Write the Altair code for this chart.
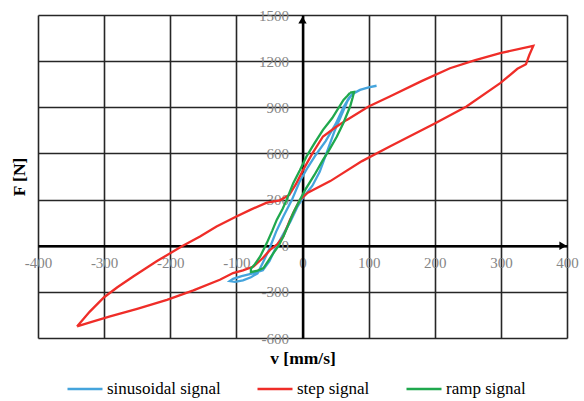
import altair as alt
import pandas as pd

# ---- axis ticks / legend ----
x_ticks = [-400, -300, -200, -100, 0, 100, 200, 300, 400]
y_ticks = [-600, -300, 0, 300, 600, 900, 1200, 1500]
series_names = ["sinusoidal signal", "step signal", "ramp signal"]
series_colors = ["#45a4dc", "#ef2d28", "#1fa84d"]

# ---- step signal (red loop) ----
step_v = [-341, -322, -300, -280, -256, -220, -183, -155, -130, -100, -79, -54, -34, -20, -10, 1, 15, 31, 50, 67,
          100, 132, 180, 223, 260, 299, 349,
          343, 338, 325, 299, 248, 200, 132, 90, 42, 8, -4, -12, -19, -29, -38, -49, -60, -74, -90, -105, -125,
          -165, -205, -250, -291, -320, -341]
step_f = [-525, -430, -335, -270, -200, -100, -5, 60, 125, 190, 233, 280, 295, 330, 400, 493, 600, 710, 770, 818,
          905, 970, 1070, 1154, 1205, 1252, 1299,
          1240, 1180, 1150, 1057, 905, 795, 645, 550, 420, 345, 298, 230, 168, 60, 10, -27, -80, -135, -160, -178, -221,
          -290, -352, -410, -460, -497, -525]

# ---- sinusoidal signal (blue loop) ----
sin_v = [112, 100, 87, 75, 68, 58, 48, 37, 26, 15, 2, -8, -18, -29, -40, -50, -60, -75, -92, -105, -110, -102,
         -90, -78, -68, -60, -50, -40, -29, -16, -4, 8, 20, 35, 50, 62, 70, 75]
sin_f = [1040, 1030, 1013, 985, 940, 840, 740, 610, 480, 390, 320, 250, 160, 75, -10, -100, -160, -180, -198, -215,
         -230, -235, -225, -205, -180, -110, -20, 90, 190, 298, 420, 510, 590, 680, 790, 900, 960, 985]

# ---- ramp signal (green loop) ----
ramp_v = [72, 78, 76, 72, 62, 52, 40, 31, 18, 4, -6, -14, -22, -29, -36, -44, -52, -59, -68, -78, -78, -72, -64,
          -54, -46, -39, -30, -24, -14, -4, 6, 18, 31, 45, 62, 68, 72]
ramp_f = [995, 1000, 965, 905, 800, 710, 620, 558, 460, 363, 280, 212, 130, 60, 0, -48, -100, -146, -162, -172,
          -150, -120, -70, 17, 95, 168, 240, 298, 407, 490, 580, 665, 753, 830, 948, 975, 995]

rows = []
for name, xs, ys in [("sinusoidal signal", sin_v, sin_f),
                     ("step signal", step_v, step_f),
                     ("ramp signal", ramp_v, ramp_f)]:
    for i, (a, b) in enumerate(zip(xs, ys)):
        rows.append({"series": name, "idx": i, "v": a, "F": b})
df = pd.DataFrame(rows)

FONT = "Liberation Serif"
W, H = 529, 323
xscale = alt.Scale(domain=[-400, 400], nice=False, zero=False)
yscale = alt.Scale(domain=[-600, 1500], nice=False, zero=False)
x_off = -H * (0 - (-600)) / 2100.0          # move x axis up to F = 0
y_off = -W * (0 - (-400)) / 800.0           # move y axis right to v = 0

grid_common = dict(grid=True, labels=False, ticks=False, domain=False, gridColor="#262626",
                   gridWidth=1.6, gridOpacity=1, zindex=0, titleFont=FONT, titleFontSize=17.5,
                   titleFontWeight="bold", titleColor="black")

lines = alt.Chart(df).mark_line(strokeWidth=2.3).encode(
    x=alt.X("v:Q", scale=xscale,
            axis=alt.Axis(values=x_ticks, orient="bottom", title="v [mm/s]", titlePadding=11, **grid_common)),
    y=alt.Y("F:Q", scale=yscale,
            axis=alt.Axis(values=y_ticks, orient="left", title="F [N]", titlePadding=10, **grid_common)),
    color=alt.Color("series:N", scale=alt.Scale(domain=series_names, range=series_colors),
                    legend=alt.Legend(orient="none", legendX=28, legendY=355, direction="horizontal",
                                      title=None, symbolType="stroke", symbolSize=1225,
                                      symbolStrokeWidth=2.5, labelFont=FONT, labelFontSize=17,
                                      labelColor="black", labelOffset=3, columnPadding=31, padding=0)),
    detail="series:N",
    order="idx:Q",
)

lab_common = dict(grid=False, ticks=False, domain=True, domainColor="black", domainWidth=2.4,
                  labelFont=FONT, labelFontSize=15, labelColor="#858585", labelFlush=False,
                  labelOverlap=False, title=None, zindex=0, labelExpr="'' + datum.value")

arrow_x = alt.Chart(pd.DataFrame({"v": [400], "F": [0]})).mark_point(
    shape="triangle-right", filled=True, size=70, color="black", opacity=1, xOffset=-4
).encode(
    x=alt.X("v:Q", scale=xscale,
            axis=alt.Axis(values=x_ticks, orient="bottom", offset=x_off, labelPadding=10, **lab_common)),
    y=alt.Y("F:Q", scale=yscale,
            axis=alt.Axis(values=y_ticks, orient="left", offset=y_off, labelPadding=14, **lab_common)),
)

arrow_y = alt.Chart(pd.DataFrame({"v": [0], "F": [1500]})).mark_point(
    shape="triangle-up", filled=True, size=70, color="black", opacity=1, yOffset=5
).encode(
    x=alt.X("v:Q", scale=xscale, axis=None),
    y=alt.Y("F:Q", scale=yscale, axis=None),
)

chart = alt.layer(lines, arrow_x, arrow_y).resolve_axis(
    x="independent", y="independent"
).properties(
    width=W, height=H,
    autosize=alt.AutoSizeParams(type="none"),
    padding={"left": 38, "top": 15, "right": 17, "bottom": 63},
    background="white",
).configure_view(stroke=None)

chart.save("out.html", embed_options={"renderer": "svg", "actions": False})
